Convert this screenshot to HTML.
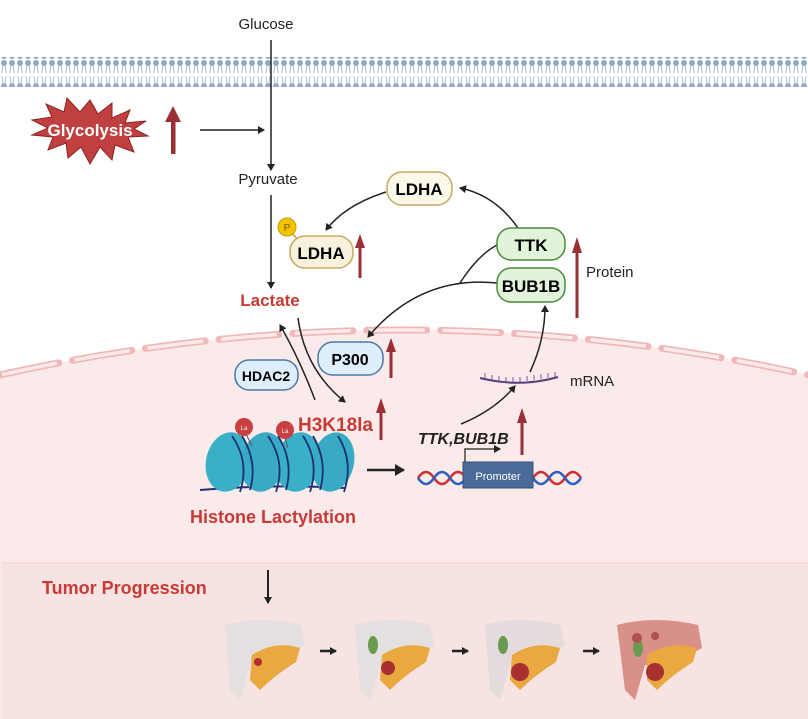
<!DOCTYPE html>
<html><head><meta charset="utf-8"><style>
html,body{margin:0;padding:0;background:#fff;}
svg{display:block;font-family:"Liberation Sans",sans-serif;}
</style></head><body>
<svg width="808" height="719" viewBox="0 0 808 719" xmlns="http://www.w3.org/2000/svg">
<defs>
<marker id="ah" markerWidth="8" markerHeight="8" refX="6" refY="4" orient="auto" markerUnits="userSpaceOnUse"><path d="M0,0 L7,4 L0,8 z" fill="#222"/></marker>
<marker id="ah2" markerWidth="12" markerHeight="12" refX="9" refY="6" orient="auto" markerUnits="userSpaceOnUse"><path d="M0,0 L10,6 L0,12 z" fill="#222"/></marker>
<pattern id="mem" x="0" y="0" width="8" height="30" patternUnits="userSpaceOnUse">
<circle cx="4" cy="3" r="3" fill="#92a8c4"/><circle cx="4" cy="26" r="3" fill="#92a8c4"/>
<path d="M3,5 L2,13 M5,5 L6,13 M3,24 L2,16 M5,24 L6,16" stroke="#a8bcd6" stroke-width="1" fill="none"/>
</pattern>
</defs>
<path d="M0,375 Q404,285 808,375 L808,719 L0,719 z" fill="#fbeaea"/>
<path d="M0,375 Q404,285 808,375" fill="none" stroke="#f0b8b8" stroke-width="7" stroke-dasharray="60,14" stroke-linecap="round"/>
<path d="M0,375 Q404,285 808,375" fill="none" stroke="#fbeaea" stroke-width="3.5" stroke-dasharray="56,18" stroke-dashoffset="-2"/>
<rect x="2" y="563" width="806" height="156" fill="#f7e3e1"/>
<line x1="2" y1="563" x2="808" y2="563" stroke="#f2d2d0" stroke-width="1"/>
<rect x="0" y="57" width="808" height="30" fill="url(#mem)"/>
<text x="266" y="29" font-size="15" text-anchor="middle" fill="#222">Glucose</text>
<line x1="271" y1="40" x2="271" y2="170" stroke="#222" stroke-width="1.5" marker-end="url(#ah)"/>
<text x="268" y="184" font-size="15" text-anchor="middle" fill="#222">Pyruvate</text>
<line x1="271" y1="195" x2="271" y2="288" stroke="#222" stroke-width="1.5" marker-end="url(#ah)"/>
<text x="270" y="306" font-size="17" font-weight="bold" text-anchor="middle" fill="#c83a36">Lactate</text>
<polygon fill="#c0403f" stroke="#8b2222" stroke-width="1" points="90,100 98,114 112,103 112,118 130,110 125,123 146,121 134,129 148,136 128,137 134,152 115,145 112,160 100,147 90,164 81,147 68,158 66,143 48,150 53,137 32,135 48,128 32,120 52,117 46,104 64,112 67,98 80,112"/>
<text x="90" y="136" font-size="17" font-weight="bold" text-anchor="middle" fill="#fff">Glycolysis</text>
<g fill="#9a2f35"><rect x="171" y="120" width="4.5" height="34"/><polygon points="165,122 173,106 181,122"/></g>
<line x1="200" y1="130" x2="264" y2="130" stroke="#222" stroke-width="1.5" marker-end="url(#ah)"/>
<rect x="387" y="172" width="65" height="33" rx="15" fill="#fdf9ea" stroke="#c8a860" stroke-width="1.5"/>
<text x="419" y="195" font-size="17" font-weight="bold" text-anchor="middle">LDHA</text>
<path d="M386,192 Q345,205 326,230" fill="none" stroke="#222" stroke-width="1.5" marker-end="url(#ah)"/>
<line x1="291" y1="232" x2="300" y2="242" stroke="#c8a040" stroke-width="1.5"/>
<circle cx="287" cy="227" r="9" fill="#f2c400" stroke="#c89a00"/>
<text x="287" y="231" font-size="10" text-anchor="middle" fill="#7a5a00">P</text>
<rect x="290" y="236" width="63" height="32" rx="15" fill="#f8f2dc" stroke="#c8a860" stroke-width="1.5"/>
<text x="321" y="259" font-size="17" font-weight="bold" text-anchor="middle">LDHA</text>
<g fill="#9a2f35"><rect x="358.5" y="245" width="3" height="33"/><polygon points="355,248 360,234 365,248"/></g>
<path d="M518,228 Q495,195 460,188" fill="none" stroke="#222" stroke-width="1.5" marker-end="url(#ah)"/>
<path d="M497,245 Q478,255 460,283" fill="none" stroke="#222" stroke-width="1.5"/>
<path d="M497,283 Q420,275 368,337" fill="none" stroke="#222" stroke-width="1.5" marker-end="url(#ah)"/>
<rect x="497" y="228" width="68" height="32" rx="14" fill="#e2f3dc" stroke="#4a8a3a" stroke-width="1.5"/>
<text x="531" y="251" font-size="17" font-weight="bold" text-anchor="middle">TTK</text>
<rect x="497" y="268" width="68" height="34" rx="14" fill="#e2f3dc" stroke="#4a8a3a" stroke-width="1.5"/>
<text x="531" y="292" font-size="17" font-weight="bold" text-anchor="middle">BUB1B</text>
<g fill="#9a2f35"><rect x="575.5" y="250" width="3" height="68"/><polygon points="572,253 577,237 582,253"/></g>
<text x="586" y="277" font-size="15" fill="#222">Protein</text>
<rect x="318" y="342" width="65" height="33" rx="15" fill="#dfeefb" stroke="#4a78a8" stroke-width="1.5"/>
<text x="350" y="365" font-size="16" font-weight="bold" text-anchor="middle">P300</text>
<g fill="#9a2f35"><rect x="389.5" y="350" width="3" height="28"/><polygon points="386,352 391,338 396,352"/></g>
<rect x="235" y="360" width="63" height="30" rx="14" fill="#dfeefb" stroke="#4a78a8" stroke-width="1.5"/>
<text x="266" y="381" font-size="14" font-weight="bold" text-anchor="middle">HDAC2</text>
<path d="M298,318 Q305,370 345,402" fill="none" stroke="#222" stroke-width="1.5" marker-end="url(#ah)"/>
<path d="M315,400 Q300,360 280,325" fill="none" stroke="#222" stroke-width="1.5" marker-end="url(#ah)"/>
<text x="298" y="431" font-size="19" font-weight="bold" fill="#c83a36">H3K18la</text>
<g fill="#9a2f35"><rect x="379.5" y="410" width="3" height="30"/><polygon points="376,413 381,398 386,413"/></g>
<g>
<path d="M200,490 Q270,484 345,488" stroke="#1e3070" stroke-width="2" fill="none"/>
<ellipse cx="228" cy="462" rx="22" ry="30" fill="#3ab0c8" transform="rotate(12 228 462)"/>
<ellipse cx="263" cy="462" rx="22" ry="30" fill="#38aac4" transform="rotate(12 263 462)"/>
<ellipse cx="298" cy="462" rx="22" ry="30" fill="#3ab0c8" transform="rotate(12 298 462)"/>
<ellipse cx="333" cy="462" rx="21" ry="30" fill="#38aac4" transform="rotate(12 333 462)"/>
<g stroke="#1e3070" stroke-width="1.8" fill="none">
<path d="M232,436 Q250,462 240,492 M242,436 Q258,462 250,490 M268,436 Q286,462 276,492 M278,436 Q294,462 286,490 M303,436 Q320,462 310,492 M313,436 Q328,462 320,490 M338,436 Q354,462 344,492"/>
</g>
<line x1="246" y1="434" x2="252" y2="446" stroke="#555"/>
<circle cx="244" cy="427" r="9" fill="#c84040"/><text x="244" y="430" font-size="6" fill="#fff" text-anchor="middle">La</text>
<line x1="285" y1="438" x2="288" y2="448" stroke="#555"/>
<circle cx="285" cy="430" r="9" fill="#c84040"/><text x="285" y="433" font-size="6" fill="#fff" text-anchor="middle">La</text>
</g>
<text x="273" y="523" font-size="18" font-weight="bold" text-anchor="middle" fill="#c83a36">Histone Lactylation</text>
<line x1="367" y1="470" x2="404" y2="470" stroke="#222" stroke-width="2.5" marker-end="url(#ah2)"/>
<path d="M418,478 q8,-12 16,0 t16,0 t16,0 M533,478 q8,-12 16,0 t16,0 t16,0" stroke="#d03030" stroke-width="2.5" fill="none"/>
<path d="M418,478 q8,12 16,0 t16,0 t16,0 M533,478 q8,12 16,0 t16,0 t16,0" stroke="#2a60c0" stroke-width="2.5" fill="none"/>
<rect x="463" y="462" width="70" height="26" fill="#4a6a9a" stroke="#34507a"/>
<text x="498" y="480" font-size="11" fill="#fff" text-anchor="middle">Promoter</text>
<path d="M465,462 V449 H500" stroke="#444" stroke-width="1.5" fill="none" marker-end="url(#ah)"/>
<text x="418" y="444" font-size="16" font-weight="bold" font-style="italic" fill="#222">TTK,BUB1B</text>
<g fill="#9a2f35"><rect x="520.5" y="420" width="3" height="35"/><polygon points="517,423 522,408 527,423"/></g>
<path d="M461,424 Q495,410 515,386" fill="none" stroke="#222" stroke-width="1.5" marker-end="url(#ah)"/>
<path d="M480,378 Q520,388 558,377" stroke="#5a3a7a" stroke-width="2" fill="none"/>
<path d="M485,378 v-5 M492,380 v-5 M499,381 v-5 M506,382 v-5 M513,382 v-5 M520,382 v-5 M527,381 v-5 M534,380 v-5 M541,379 v-5 M548,378 v-5 M555,377 v-5" stroke="#7a5aa0" stroke-width="1"/>
<text x="570" y="386" font-size="15" fill="#222">mRNA</text>
<path d="M530,372 Q545,340 545,306" fill="none" stroke="#222" stroke-width="1.5" marker-end="url(#ah)"/>
<text x="42" y="594" font-size="18" font-weight="bold" fill="#c83a36">Tumor Progression</text>
<line x1="268" y1="570" x2="268" y2="603" stroke="#222" stroke-width="2" marker-end="url(#ah)"/>
<g>
<path d="M225,625 Q260,615 300,625 L305,645 L275,665 L250,665 L240,700 L230,690 Z" fill="#e4e0e0"/>
<path d="M252,655 Q275,640 300,648 L296,662 Q275,675 260,690 L250,680 Z" fill="#eaa840"/>
<circle cx="258" cy="662" r="4" fill="#b03030"/>
<path d="M355,625 Q390,615 430,625 L435,645 L405,665 L380,665 L370,700 L360,690 Z" fill="#e4e0e0"/>
<path d="M382,655 Q405,640 430,648 L426,662 Q405,675 390,690 L380,680 Z" fill="#eaa840"/>
<ellipse cx="373" cy="645" rx="5" ry="9" fill="#6a9a50"/>
<circle cx="388" cy="668" r="7" fill="#a83030"/>
<path d="M485,625 Q520,615 560,625 L565,645 L535,665 L510,665 L500,700 L490,690 Z" fill="#e4dcdc"/>
<path d="M512,655 Q535,640 560,648 L556,662 Q535,675 520,690 L510,680 Z" fill="#eaa840"/>
<ellipse cx="503" cy="645" rx="5" ry="9" fill="#6a9a50"/>
<circle cx="520" cy="672" r="9" fill="#a83030"/>
<path d="M617,625 Q655,615 698,625 L702,648 L670,665 L645,665 L635,700 L625,690 Z" fill="#d89088"/>
<path d="M647,655 Q672,640 697,648 L693,662 Q672,675 657,690 L647,680 Z" fill="#eaa840"/>
<ellipse cx="638" cy="648" rx="5" ry="9" fill="#6a9a50"/>
<circle cx="655" cy="672" r="9" fill="#a83030"/>
<circle cx="637" cy="638" r="5" fill="#b05050"/><circle cx="655" cy="636" r="4" fill="#b05050"/>
</g>
<g stroke="#222" stroke-width="2.5"><line x1="320" y1="651" x2="336" y2="651" marker-end="url(#ah)"/><line x1="452" y1="651" x2="468" y2="651" marker-end="url(#ah)"/><line x1="583" y1="651" x2="599" y2="651" marker-end="url(#ah)"/></g>
</svg>
</body></html>
